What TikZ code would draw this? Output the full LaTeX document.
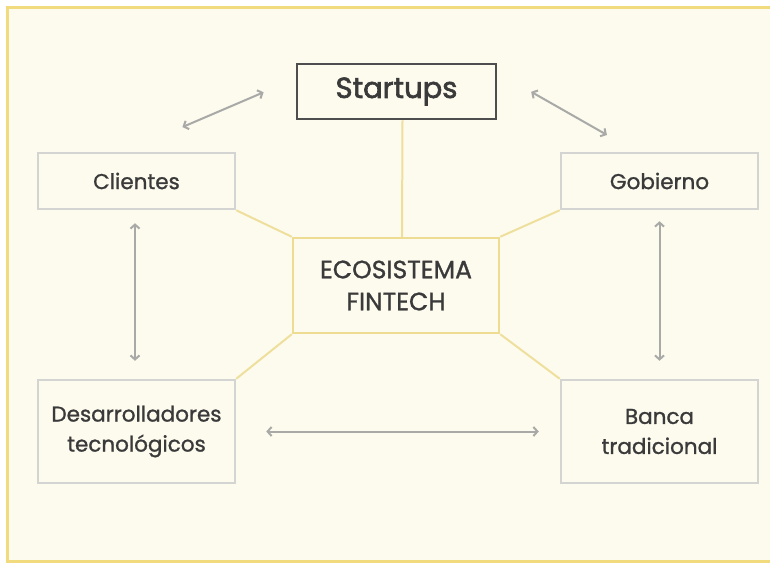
\documentclass[tikz,border=0pt]{standalone}
\usepackage{fontspec}
\setmainfont{Poppins}[FakeBold=1.1]
\newfontfamily\startfont{Poppins}[FakeBold=2.2]
\usepackage{tikz}
\usetikzlibrary{arrows.meta, positioning, calc}
\definecolor{cream}{HTML}{FDFBEE}
\definecolor{framegold}{HTML}{F2DB7E}
\definecolor{ecogold}{HTML}{EDDC92}
\definecolor{linkgold}{HTML}{EEE09C}
\definecolor{boxgray}{HTML}{D4D4D2}
\definecolor{arrowgray}{HTML}{A9A9A7}
\definecolor{inkgray}{HTML}{3A3A3A}

\tikzset{
	actor/.style={draw=boxgray, line width=2.5pt, fill=cream, text=inkgray, align=center,
		minimum width=197pt, font=\fontsize{21.5}{30}\selectfont, inner sep=0pt},
	startbox/.style={draw=inkgray!90, line width=2.5pt, fill=cream, text=inkgray,
		minimum width=199pt, minimum height=55pt, font=\startfont\fontsize{29}{32}\selectfont, inner sep=0pt},
	ecobox/.style={draw=ecogold, line width=2.5pt, fill=cream, text=inkgray, align=center,
		minimum width=206pt, minimum height=95pt, font=\fontsize{25}{32}\selectfont, inner sep=0pt},
	link/.style={draw=linkgold, line width=2pt},
	twoway/.style={draw=arrowgray, line width=2pt,
		{Straight Barb[length=4pt,width=9pt]}-{Straight Barb[length=4pt,width=9pt]}}
}

\begin{document}
\begin{tikzpicture}[x=1pt, y=-1pt]
		\useasboundingbox (0,0) rectangle (770,565);
		\fill[white] (0,0) rectangle (770,565);
		\draw[framegold, line width=3pt, fill=cream] (7.5,7.5) rectangle (790,561);
		
		% main boxes
		\node[startbox] (startups) at (396.5,91.5) {Startups};
		\node[ecobox] (eco) at (396,285.5) {ECOSISTEMA\\FINTECH};
		\node[actor, minimum height=56pt] (clientes) at (136.5,181) {Clientes};
		\node[actor, minimum height=56pt] (gobierno) at (659.5,181) {Gobierno};
		\node[actor, minimum height=103pt] (desarr) at (136.5,431.5) {Desarrolladores\\tecnológicos};
		\node[actor, minimum height=103pt] (banca) at (659.5,431.5) {Banca\\tradicional};
		
		% links to the centre
		\draw[link] ([xshift=6pt]startups.south) -- ([xshift=6pt]eco.north);
		\draw[link] (clientes.south east) -- (eco.north west);
		\draw[link] (gobierno.south west) -- (eco.north east);
		\draw[link] (desarr.north east) -- (eco.south west);
		\draw[link] (banca.north west) -- (eco.south east);
		
		% relations between actors
		\draw[twoway, shorten <=50pt, shorten >=35pt] ([yshift=5pt]clientes.north) -- ([yshift=13pt]startups.west);
		\draw[twoway, shorten <=39pt, shorten >=34pt] ([yshift=19pt]startups.east) -- ([xshift=-23pt]gobierno.north);
		\draw[twoway, shorten <=13pt, shorten >=18pt] ([xshift=-1.5pt]clientes.south) -- ([xshift=-1.5pt]desarr.north);
		\draw[twoway, shorten <=11pt, shorten >=18pt] (gobierno.south) -- (banca.north);
		\draw[twoway, shorten <=30pt, shorten >=21pt] (desarr.east) -- (banca.west);
		
\end{tikzpicture}
\end{document}
